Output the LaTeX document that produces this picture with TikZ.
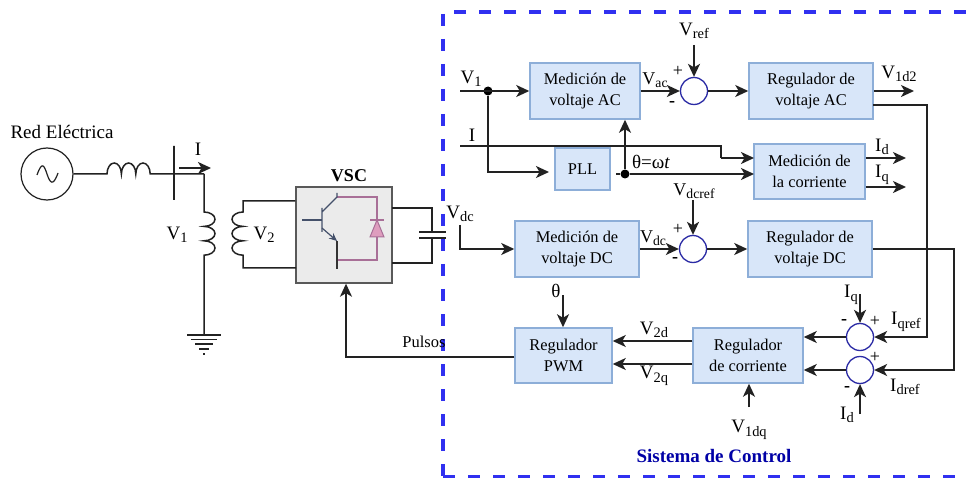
\documentclass[tikz,border=0pt]{standalone}
\usepackage{fontspec}
\setmainfont{Liberation Serif}
\usetikzlibrary{arrows.meta}
\newcommand{\sig}[2]{#1\raisebox{-0.4ex}{\scalebox{.76}{#2}}}
\definecolor{boxfill}{HTML}{D8E6F9}
\definecolor{boxedge}{HTML}{8DAED8}
\definecolor{sumedge}{HTML}{2B2BA5}
\definecolor{ctrlblue}{HTML}{3030F0}
\definecolor{igbtpink}{HTML}{A86F97}
\definecolor{diodepink}{HTML}{DE9DBE}
\definecolor{igbtslate}{HTML}{44506A}
\definecolor{wire}{HTML}{222222}
\begin{document}
\begin{tikzpicture}[x=1pt,y=-1pt]
  \tikzset{blockbox/.style = {draw=boxedge, fill=boxfill, line width=1.5pt, inner sep=0pt, align=center, font=\fontsize{16.4}{21}\selectfont},
    sumnode/.style = {circle, draw=sumedge, fill=white, line width=1.3pt, minimum size=27pt, inner sep=0pt},
    dotnode/.style = {circle, fill=black, minimum size=9pt, inner sep=0pt},
    lab/.style = {inner sep=0pt, font=\fontsize{19}{21}\selectfont},
    midlab/.style = {inner sep=0pt, font=\fontsize{18}{20}\selectfont},
    smalllab/.style = {inner sep=0pt, font=\fontsize{16.5}{18}\selectfont},
    wireline/.style = {draw=wire, line width=1.5pt},
    arrowline/.style = {wireline, -{Stealth[length=13pt,width=12pt,inset=3.5pt]}}}
  \useasboundingbox (0,0) rectangle (966,478);
  \fill[white] (0,0) rectangle (966,478);

  % power side
  \node[circle, draw=wire, line width=1.2pt, minimum size=52pt, inner sep=0pt] (source) at (47,174) {};
  \draw[wire, line width=1.2pt] (37,175) .. controls (42,161) and (44,165) .. (47,174) .. controls (50,183) and (53,187) .. (58,173);
  \coordinate (coilin) at (107,174);
  \coordinate (busnode) at (204,174);
  \node[draw=wire, line width=2.2pt, minimum width=0pt, minimum height=54pt, inner sep=0pt] (bus) at (174,173) {};
  \draw[wireline] (source) -- (coilin) arc (180:0:7.2pt and 11pt) arc (180:0:7.2pt and 11pt) arc (180:0:7.2pt and 11pt) -- (busnode);
  \coordinate (iarrowa) at (179,168);
  \coordinate (iarrowb) at (211,168);
  \draw[arrowline] (iarrowa) -- (iarrowb);
  \coordinate (primtop) at (204,212);
  \coordinate (groundtop) at (204,335);
  \draw[wireline] (busnode) -- (primtop) arc (90:-90:11pt and 7.2pt) arc (90:-90:11pt and 7.2pt) arc (90:-90:11pt and 7.2pt) -- (groundtop);
  \draw[wireline] (187,335) -- (221,335) (191,339.5) -- (217,339.5) (195,344) -- (213,344) (199,349) -- (209,349) (203,354) -- (205,354);
  \coordinate (secout) at (243,201);
  \coordinate (secin) at (243,212);

  % VSC
  \node[draw=black!65, fill=black!8, line width=1.4pt, minimum size=96pt, inner sep=0pt] (vsc) at (344,235) {};
  \draw[wireline] (vsc.west |- secout) -- (secout) -- (secin) arc (90:270:11pt and 7.2pt) arc (90:270:11pt and 7.2pt) arc (90:270:11pt and 7.2pt) |- (296,268);
  \draw[igbtpink, line width=1.3pt] (337,197) -- (377,197) -- (377,260) -- (337,260);
  \draw[igbtpink, fill=diodepink, line width=1pt] (377,220) -- (370,237) -- (384,237) -- cycle;
  \draw[igbtpink, line width=1.3pt] (370,220) -- (384,220);
  \draw[igbtslate, line width=1.2pt] (302,220) -- (322,220);
  \draw[igbtslate, line width=1.2pt] (322,208) -- (322,232) (322,212) -- (337,197) -- (337,193);
  \draw[igbtslate, line width=1.2pt, -{Stealth[length=8pt,width=7pt]}] (322,228) -- (337,241);
  \draw[black!80, line width=1.6pt] (337,241) -- (337,269);
  \node[inner sep=0pt, font=\fontsize{18}{20}\bfseries\selectfont] (vsclabel) at (349,176) {VSC};
  \draw[wireline] (392,208) -| (432,232) (392,263) -| (432,238);
  \draw[wire, line width=1.5pt] (419,232) -- (446,232) (419,238) -- (446,238);

  % blocks
  \node[blockbox, minimum width=110pt, minimum height=56pt] (medac) at (585,91) {Medición de\\voltaje AC};
  \node[blockbox, minimum width=124pt, minimum height=56pt] (regac) at (811,91) {Regulador de\\voltaje AC};
  \node[blockbox, minimum width=55pt, minimum height=42pt] (pll) at (582.5,169) {PLL};
  \node[blockbox, minimum width=111pt, minimum height=55pt] (medcorr) at (809.5,171.5) {Medición de\\la corriente};
  \node[blockbox, minimum width=124pt, minimum height=56pt] (meddc) at (577,249) {Medición de\\voltaje DC};
  \node[blockbox, minimum width=124pt, minimum height=56pt] (regdc) at (810,249) {Regulador de\\voltaje DC};
  \node[blockbox, minimum width=97pt, minimum height=55pt] (regpwm) at (563.5,355.5) {Regulador\\PWM};
  \node[blockbox, minimum width=110pt, minimum height=55pt] (regcorr) at (748,355.5) {Regulador\\de corriente};
  \node[sumnode] (sumac) at (694,91) {};
  \node[sumnode] (sumdc) at (693,249) {};
  \node[sumnode] (sumq) at (860,337) {};
  \node[sumnode] (sumd) at (860,370) {};
  \node[dotnode] (dotvone) at (488,91) {};
  \node[dotnode] (dottheta) at (625,174) {};

  % free ends
  \coordinate (vonein) at (460,91);
  \coordinate (iin) at (460,146);
  \coordinate (ibend) at (721,146);
  \coordinate (ibendb) at (721,158);
  \coordinate (corrina) at (754,158);
  \coordinate (corrinb) at (754,174);
  \coordinate (pllin) at (549,172);
  \coordinate (pllout) at (616,174);
  \coordinate (vrefin) at (694,45);
  \coordinate (vdcrefin) at (693,200);
  \coordinate (voneout) at (914,91);
  \coordinate (idout) at (906,158);
  \coordinate (iqout) at (906,187);
  \coordinate (regacout) at (873,105);
  \coordinate (iqrefin) at (927,337);
  \coordinate (idrefin) at (954,370);
  \coordinate (vdcin) at (460,225);
  \coordinate (thetain) at (563,295);
  \coordinate (iqin) at (860,294);
  \coordinate (idin) at (860,414);
  \coordinate (vdqin) at (749,407);
  \coordinate (pulsein) at (346,357);

  % control wiring
  \draw[arrowline] (vonein) -- (medac);
  \draw[arrowline] (dotvone) |- (pllin);
  \draw[wireline] (iin) -- (ibend) -- (ibendb);
  \draw[arrowline] (ibendb) -- (corrina);
  \draw[wireline] (pllout) -- (dottheta);
  \draw[arrowline] (dottheta) -- (corrinb);
  \draw[arrowline] (dottheta) -- (medac.south -| dottheta);
  \draw[arrowline] (medac) -- (sumac);
  \draw[arrowline] (vrefin) -- (sumac);
  \draw[arrowline] (sumac) -- (regac);
  \draw[arrowline] (regac) -- (voneout);
  \draw[arrowline] (medcorr.east |- idout) -- (idout);
  \draw[arrowline] (medcorr.east |- iqout) -- (iqout);
  \draw[arrowline] (vdcin) |- (meddc);
  \draw[arrowline] (meddc) -- (sumdc);
  \draw[arrowline] (vdcrefin) -- (sumdc);
  \draw[arrowline] (sumdc) -- (regdc);
  \draw[arrowline] (regacout) -| (iqrefin) -- (sumq);
  \draw[arrowline] (regdc) -| (idrefin) -- (sumd);
  \draw[arrowline] (iqin) -- (sumq);
  \draw[arrowline] (idin) -- (sumd);
  \draw[arrowline] (sumq) -- (regcorr.east |- sumq);
  \draw[arrowline] (sumd) -- (regcorr.east |- sumd);
  \draw[arrowline] (vdqin) -- (regcorr.south -| vdqin);
  \draw[arrowline] (thetain) -- (regpwm.north -| thetain);
  \draw[arrowline] (regcorr.west |- 0,341) -- (regpwm.east |- 0,341);
  \draw[arrowline] (regcorr.west |- 0,364) -- (regpwm.east |- 0,364);
  \draw[arrowline] (regpwm.west |- pulsein) -- (pulsein) -- (vsc.south -| pulsein);

  % control frame
  \draw[ctrlblue, line width=3.4pt, dash pattern=on 12pt off 13pt] (966,12) -- (443,12) -- (443,478);
  \draw[ctrlblue, line width=3.4pt, dash pattern=on 12pt off 13pt] (443,476.5) -- (966,476.5);

  % labels
  \node[lab] (lblred) at (62,132) {Red Eléctrica};
  \node[lab] (lbli) at (198,149) {I};
  \node[lab] (lblvone) at (177,235) {\sig{V}{1}};
  \node[lab] (lblvtwo) at (264,235) {\sig{V}{2}};
  \node[lab] (lblvdc) at (460,214) {\sig{V}{dc}};
  \node[smalllab] (lblpulsos) at (424,342) {Pulsos};
  \node[lab] (lblvonec) at (471,79) {\sig{V}{1}};
  \node[lab] (lblic) at (472,135) {I};
  \node[lab] (lblvref) at (694,31) {\sig{V}{ref}};
  \node[midlab] (lblvac) at (655,80) {\sig{V}{ac}};
  \node[lab] (lblvonedb) at (899,74) {\sig{V}{1d2}};
  \node[lab] (lbltheta) at (651,162) {θ=ω\textit{t}};
  \node[midlab] (lblvdcref) at (694,191) {\sig{V}{dcref}};
  \node[lab] (lblid) at (882,147) {\sig{I}{d}};
  \node[lab] (lbliq) at (882,175) {\sig{I}{q}};
  \node[midlab] (lblvdcb) at (653,238) {\sig{V}{dc}};
  \node[lab] (lblthetab) at (556,291) {θ};
  \node[lab] (lblvtwod) at (654,330) {\sig{V}{2d}};
  \node[lab] (lblvtwoq) at (654,376) {\sig{V}{2q}};
  \node[lab] (lbliqin) at (851,295) {\sig{I}{q}};
  \node[lab] (lbliqref) at (906,322) {\sig{I}{qref}};
  \node[lab] (lblidref) at (905,387) {\sig{I}{dref}};
  \node[lab] (lblidin) at (847,415) {\sig{I}{d}};
  \node[lab] (lblvdq) at (749,430) {\sig{V}{1dq}};
  \node[midlab] (plusac) at (678,71) {+};
  \node[midlab] (minusac) at (672,104) {\textbf{-}};
  \node[midlab] (plusdc) at (678,229) {+};
  \node[midlab] (minusdc) at (675,260) {\textbf{-}};
  \node[midlab] (minusq) at (844,322) {\textbf{-}};
  \node[midlab] (plusq) at (875,321) {+};
  \node[midlab] (plusd) at (875,357) {+};
  \node[midlab] (minusd) at (847,389) {\textbf{-}};
  \node[inner sep=0pt, text=blue!65!black, font=\fontsize{19}{21}\bfseries\selectfont] (lblctrl) at (714,456) {Sistema de Control};
\end{tikzpicture}
\end{document}
